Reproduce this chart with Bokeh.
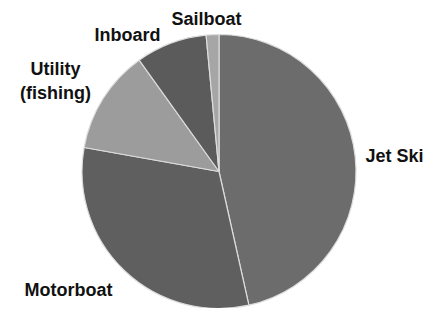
import math
from bokeh.plotting import figure
from bokeh.models import Range1d, ColumnDataSource
from bokeh.core.properties import value
from bokeh.embed import file_html
from bokeh.resources import INLINE

# Data (percent shares, clockwise from 12 o'clock)
categories = ["Jet Ski", "Motorboat", "Utility (fishing)", "Inboard", "Sailboat"]
shares = [46.5, 31.3, 12.3, 8.4, 1.5]
colors = ["#6c6c6c", "#5f5f5f", "#9c9c9c", "#5b5b5b", "#a6a6a6"]

# Label lines (text) per category
label_lines = [["Jet Ski"], ["Motorboat"], ["Utility", "(fishing)"], ["Inboard"], ["Sailboat"]]

W, H = 425, 308
p = figure(width=W, height=H, output_backend="svg", toolbar_location=None,
           x_range=Range1d(0, W), y_range=Range1d(316 - H, 316),
           min_border=0, min_border_left=0, min_border_right=0,
           min_border_top=0, min_border_bottom=0)
p.axis.visible = False
p.grid.visible = False
p.outline_line_color = None
p.background_fill_color = "white"
p.border_fill_color = "white"

def Y(img_y):
    return 316 - img_y

cx, cy, r = 218.5, Y(171), 137

total = sum(shares)
starts, ends = [], []
acc = 0.0
for s in shares:
    starts.append(math.pi / 2 - acc / total * 2 * math.pi)
    acc += s
    ends.append(math.pi / 2 - acc / total * 2 * math.pi)

src = ColumnDataSource(dict(start=starts, end=ends, color=colors, cat=categories))
p.wedge(x=cx, y=cy, radius=r, start_angle="start", end_angle="end",
        direction="clock", fill_color="color", line_color="#dcdcdc",
        line_width=1.2, source=src)

# label anchor positions (layout, image pixel coords) for each line
label_pos = [[(394, 155)], [(68, 289)], [(55, 68), (55, 92)], [(127, 34)], [(206, 18)]]
xs, ys, ts = [], [], []
for lines, poss in zip(label_lines, label_pos):
    for t, (lx, ly) in zip(lines, poss):
        xs.append(lx)
        ys.append(Y(ly))
        ts.append(t)
p.text(x=xs, y=ys, text=ts, text_font=value("Liberation Sans"),
       text_font_style="bold", text_font_size="18px", text_color="#111111",
       text_align="center", text_baseline="middle")

open("out.html", "w").write(file_html(p, INLINE))
